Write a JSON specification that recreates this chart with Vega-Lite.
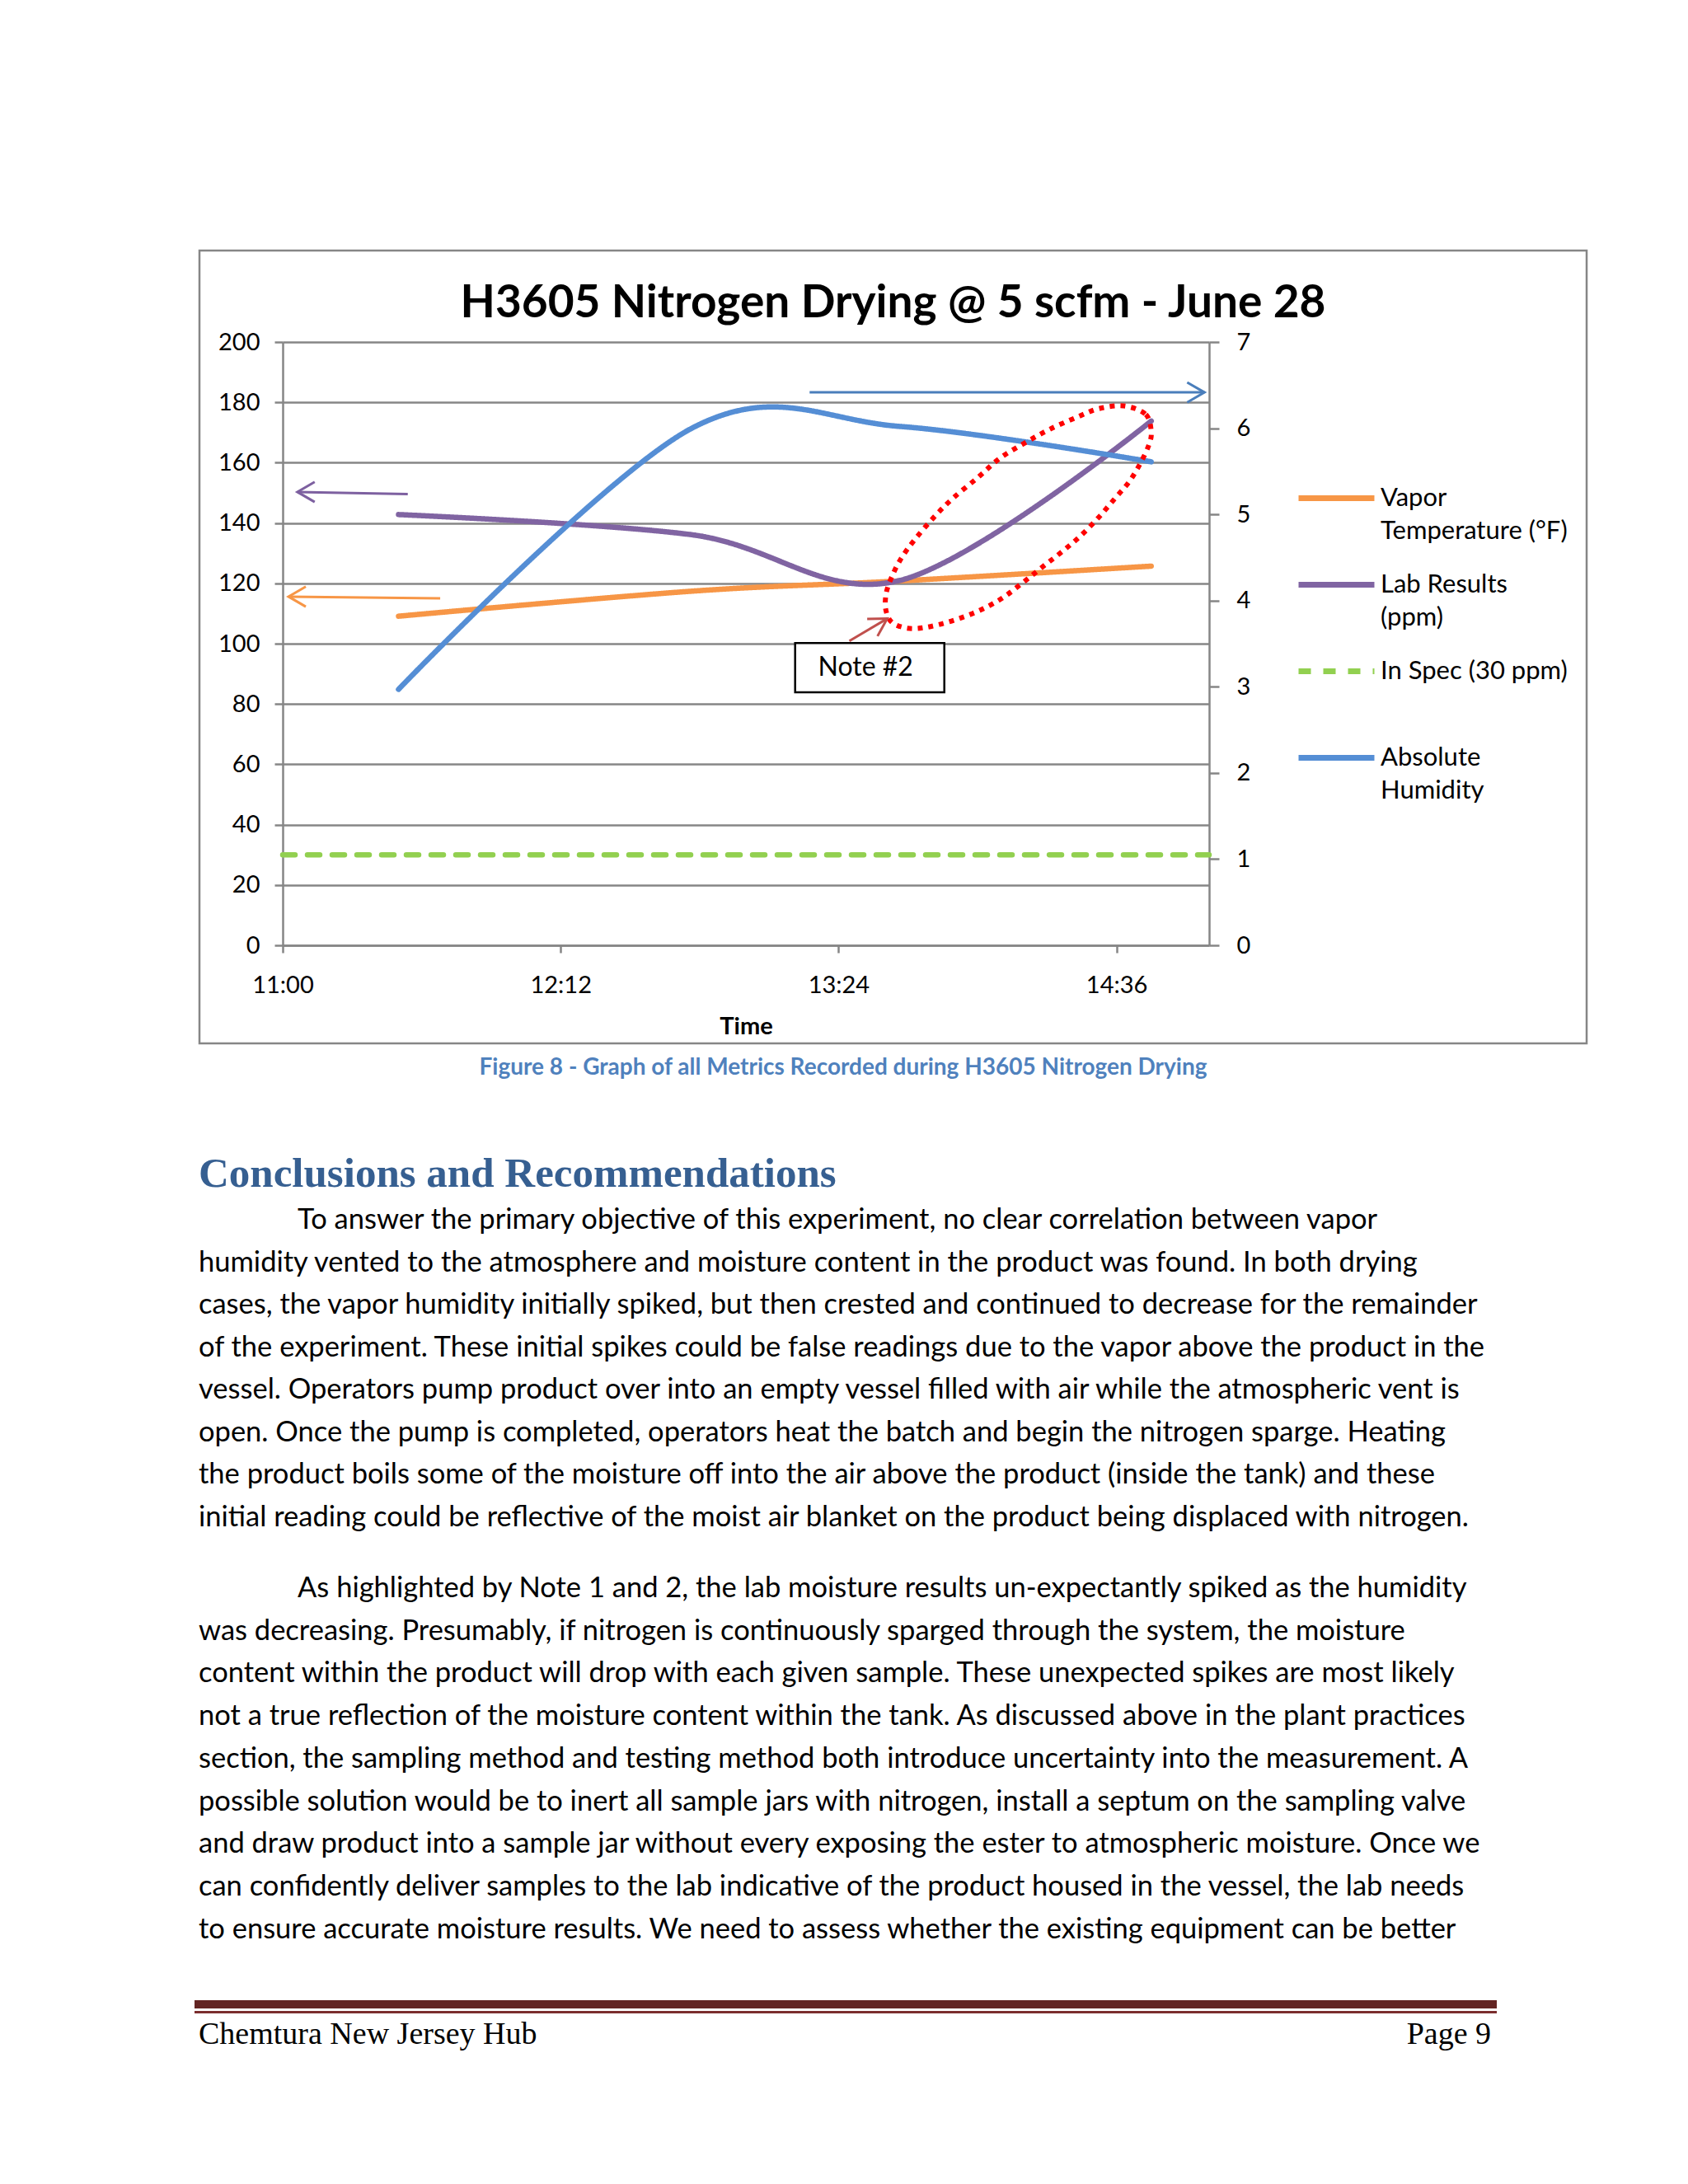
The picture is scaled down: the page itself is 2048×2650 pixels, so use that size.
{
  "$schema": "https://vega.github.io/schema/vega-lite/v6.json",
  "background": "white",
  "padding": {"left": 231, "top": 302, "right": 0, "bottom": 0},
  "config": {
    "view": {"stroke": null},
    "font": "Lato",
    "style": {"guide-label": {"lineHeight": 40}},
    "axis": {
      "labelFont": "Lato", "labelFontSize": 29, "labelColor": "#000000",
      "domainColor": "#868686", "domainWidth": 2.5,
      "tickColor": "#868686", "tickWidth": 2.5,
      "gridColor": "#868686", "gridWidth": 2.5,
      "titleFont": "Lato", "titleFontSize": 29, "titleColor": "#000000",
      "labelFlush": false, "labelOverlap": false
    }
  },
  "datasets": {
    "series": [
      {"series": "Vapor Temperature (°F)", "time": "2012-06-28T11:30:00", "value": 109.1},
      {"series": "Vapor Temperature (°F)", "time": "2012-06-28T12:46:00", "value": 117.4},
      {"series": "Vapor Temperature (°F)", "time": "2012-06-28T13:40:00", "value": 120.8},
      {"series": "Vapor Temperature (°F)", "time": "2012-06-28T14:45:00", "value": 125.7},
      {"series": "Lab Results (ppm)", "time": "2012-06-28T11:30:00", "value": 142.8},
      {"series": "Lab Results (ppm)", "time": "2012-06-28T12:46:00", "value": 136.1},
      {"series": "Lab Results (ppm)", "time": "2012-06-28T13:40:00", "value": 121.0},
      {"series": "Lab Results (ppm)", "time": "2012-06-28T14:45:00", "value": 173.8},
      {"series": "In Spec (30 ppm)", "time": "2012-06-28T11:00:00", "value": 30},
      {"series": "In Spec (30 ppm)", "time": "2012-06-28T15:00:00", "value": 30},
      {"series": "Absolute Humidity", "time": "2012-06-28T11:30:00", "value": 2.97},
      {"series": "Absolute Humidity", "time": "2012-06-28T12:46:00", "value": 6.0},
      {"series": "Absolute Humidity", "time": "2012-06-28T13:40:00", "value": 6.02},
      {"series": "Absolute Humidity", "time": "2012-06-28T14:45:00", "value": 5.61}
    ]
  },
  "spacing": 0,
  "bounds": "flush",
  "vconcat": [
    {
      "width": 1124,
      "height": 732,
      "title": {
        "text": "H3605 Nitrogen Drying @ 5 scfm - June 28",
        "font": "Lato", "fontSize": 55, "fontWeight": "bold", "color": "#000000",
        "anchor": "middle", "frame": "bounds", "baseline": "alphabetic", "offset": -137
      },
      "layer": [
        {
          "data": {"name": "series"},
          "transform": [{"filter": "datum.series != 'Absolute Humidity'"}],
          "mark": {"type": "line", "interpolate": "cardinal", "strokeWidth": 6.5, "strokeCap": "round", "strokeJoin": "round"},
          "encoding": {
            "x": {
              "field": "time", "type": "temporal",
              "scale": {"domain": [{"year": 2012, "month": 6, "date": 28, "hours": 11}, {"year": 2012, "month": 6, "date": 28, "hours": 15}], "nice": false},
              "axis": {
                "title": "Time", "titleFontWeight": "bold", "format": "%H:%M", "grid": false,
                "values": [
                  {"year": 2012, "month": 6, "date": 28, "hours": 11, "minutes": 0},
                  {"year": 2012, "month": 6, "date": 28, "hours": 12, "minutes": 12},
                  {"year": 2012, "month": 6, "date": 28, "hours": 13, "minutes": 24},
                  {"year": 2012, "month": 6, "date": 28, "hours": 14, "minutes": 36}
                ],
                "tickSize": 9, "labelPadding": 25, "titlePadding": 21
              }
            },
            "y": {
              "field": "value", "type": "quantitative",
              "scale": {"domain": [0, 200], "nice": false},
              "axis": {"title": null, "orient": "left", "values": [0, 20, 40, 60, 80, 100, 120, 140, 160, 180, 200], "grid": true, "tickSize": 10, "labelPadding": 18}
            },
            "color": {
              "field": "series", "type": "nominal",
              "scale": {"domain": ["Vapor Temperature (°F)", "Lab Results (ppm)", "In Spec (30 ppm)", "Absolute Humidity"], "range": ["#F79646", "#8064A2", "#92D050", "#558ED5"]},
              "legend": {
                "title": null, "orient": "none", "legendX": 1229, "legendY": 140, "padding": 0,
                "symbolType": "stroke", "symbolSize": 8464, "symbolStrokeWidth": 7,
                "labelFont": "Lato", "labelFontSize": 31, "labelColor": "#000000", "labelBaseline": "middle",
                "labelOffset": 4, "labelLimit": 600, "rowPadding": -1,
                "labelExpr": "datum.label == 'Vapor Temperature (°F)' ? ['Vapor', 'Temperature (°F)'] : datum.label == 'Lab Results (ppm)' ? ['Lab Results', '(ppm)'] : datum.label == 'Absolute Humidity' ? ['Absolute', 'Humidity'] : [datum.label, '']"
              }
            },
            "strokeDash": {
              "field": "series", "type": "nominal",
              "scale": {"domain": ["Vapor Temperature (°F)", "Lab Results (ppm)", "In Spec (30 ppm)", "Absolute Humidity"], "range": [[1, 0], [1, 0], [15, 15], [1, 0]]},
              "legend": {
                "title": null, "orient": "none", "legendX": 1229, "legendY": 140, "padding": 0,
                "symbolType": "stroke", "symbolSize": 8464, "symbolStrokeWidth": 7,
                "labelFont": "Lato", "labelFontSize": 31, "labelColor": "#000000", "labelBaseline": "middle",
                "labelOffset": 4, "labelLimit": 600, "rowPadding": -1,
                "labelExpr": "datum.label == 'Vapor Temperature (°F)' ? ['Vapor', 'Temperature (°F)'] : datum.label == 'Lab Results (ppm)' ? ['Lab Results', '(ppm)'] : datum.label == 'Absolute Humidity' ? ['Absolute', 'Humidity'] : [datum.label, '']"
              }
            }
          }
        },
        {
          "data": {"name": "series"},
          "transform": [{"filter": "datum.series == 'Absolute Humidity'"}],
          "mark": {"type": "line", "interpolate": "cardinal", "strokeWidth": 6.5, "strokeCap": "round", "strokeJoin": "round"},
          "encoding": {
            "x": {"field": "time", "type": "temporal", "scale": {"domain": [{"year": 2012, "month": 6, "date": 28, "hours": 11}, {"year": 2012, "month": 6, "date": 28, "hours": 15}], "nice": false}},
            "y": {
              "field": "value", "type": "quantitative",
              "scale": {"domain": [0, 7], "nice": false},
              "axis": {"title": null, "orient": "right", "values": [0, 1, 2, 3, 4, 5, 6, 7], "grid": false, "tickSize": 12, "labelPadding": 21}
            },
            "color": {
              "field": "series", "type": "nominal",
              "scale": {"domain": ["Vapor Temperature (°F)", "Lab Results (ppm)", "In Spec (30 ppm)", "Absolute Humidity"], "range": ["#F79646", "#8064A2", "#92D050", "#558ED5"]},
              "legend": {
                "title": null, "orient": "none", "legendX": 1229, "legendY": 140, "padding": 0,
                "symbolType": "stroke", "symbolSize": 8464, "symbolStrokeWidth": 7,
                "labelFont": "Lato", "labelFontSize": 31, "labelColor": "#000000", "labelBaseline": "middle",
                "labelOffset": 4, "labelLimit": 600, "rowPadding": -1,
                "labelExpr": "datum.label == 'Vapor Temperature (°F)' ? ['Vapor', 'Temperature (°F)'] : datum.label == 'Lab Results (ppm)' ? ['Lab Results', '(ppm)'] : datum.label == 'Absolute Humidity' ? ['Absolute', 'Humidity'] : [datum.label, '']"
              }
            },
            "strokeDash": {
              "field": "series", "type": "nominal",
              "scale": {"domain": ["Vapor Temperature (°F)", "Lab Results (ppm)", "In Spec (30 ppm)", "Absolute Humidity"], "range": [[1, 0], [1, 0], [15, 15], [1, 0]]},
              "legend": {
                "title": null, "orient": "none", "legendX": 1229, "legendY": 140, "padding": 0,
                "symbolType": "stroke", "symbolSize": 8464, "symbolStrokeWidth": 7,
                "labelFont": "Lato", "labelFontSize": 31, "labelColor": "#000000", "labelBaseline": "middle",
                "labelOffset": 4, "labelLimit": 600, "rowPadding": -1,
                "labelExpr": "datum.label == 'Vapor Temperature (°F)' ? ['Vapor', 'Temperature (°F)'] : datum.label == 'Lab Results (ppm)' ? ['Lab Results', '(ppm)'] : datum.label == 'Absolute Humidity' ? ['Absolute', 'Humidity'] : [datum.label, '']"
              }
            }
          }
        },
        {
          "layer": [
            {
              "data": {"values": [{}]},
              "mark": {"type": "rect", "fill": "transparent", "stroke": "#868686", "strokeWidth": 2.5, "clip": false},
              "encoding": {
                "x": {"datum": {"year": 2012, "month": 6, "date": 28, "hours": 10, "minutes": 38, "seconds": 26}, "type": "temporal", "scale": {"domain": [{"year": 2012, "month": 6, "date": 28, "hours": 11}, {"year": 2012, "month": 6, "date": 28, "hours": 15}], "nice": false}},
                "x2": {"datum": {"year": 2012, "month": 6, "date": 28, "hours": 16, "minutes": 37, "seconds": 48}},
                "y": {"datum": 230.3, "type": "quantitative", "scale": {"domain": [0, 200], "nice": false}, "axis": null},
                "y2": {"datum": -32.5}
              }
            },
            {
              "data": {
                "values": [
                  {"i": 0, "time": "2012-06-28T14:37:54", "value": 178.8},
                  {"i": 1, "time": "2012-06-28T14:43:36", "value": 176.0},
                  {"i": 2, "time": "2012-06-28T14:45:00", "value": 170.1},
                  {"i": 3, "time": "2012-06-28T14:44:18", "value": 165.6},
                  {"i": 4, "time": "2012-06-28T14:42:06", "value": 159.6},
                  {"i": 5, "time": "2012-06-28T14:39:18", "value": 153.7},
                  {"i": 6, "time": "2012-06-28T14:35:42", "value": 148.3},
                  {"i": 7, "time": "2012-06-28T14:31:24", "value": 141.9},
                  {"i": 8, "time": "2012-06-28T14:26:30", "value": 135.5},
                  {"i": 9, "time": "2012-06-28T14:21:30", "value": 130.1},
                  {"i": 10, "time": "2012-06-28T14:16:30", "value": 125.1},
                  {"i": 11, "time": "2012-06-28T14:11:30", "value": 120.0},
                  {"i": 12, "time": "2012-06-28T14:05:48", "value": 114.6},
                  {"i": 13, "time": "2012-06-28T13:58:42", "value": 110.0},
                  {"i": 14, "time": "2012-06-28T13:50:12", "value": 106.4},
                  {"i": 15, "time": "2012-06-28T13:43:06", "value": 105.0},
                  {"i": 16, "time": "2012-06-28T13:38:06", "value": 106.8},
                  {"i": 17, "time": "2012-06-28T13:36:18", "value": 110.9},
                  {"i": 18, "time": "2012-06-28T13:36:18", "value": 116.4},
                  {"i": 19, "time": "2012-06-28T13:37:42", "value": 121.9},
                  {"i": 20, "time": "2012-06-28T13:40:12", "value": 128.2},
                  {"i": 21, "time": "2012-06-28T13:43:48", "value": 134.6},
                  {"i": 22, "time": "2012-06-28T13:48:42", "value": 141.9},
                  {"i": 23, "time": "2012-06-28T13:53:42", "value": 148.3},
                  {"i": 24, "time": "2012-06-28T14:00:06", "value": 155.1},
                  {"i": 25, "time": "2012-06-28T14:05:48", "value": 161.5},
                  {"i": 26, "time": "2012-06-28T14:12:12", "value": 166.5},
                  {"i": 27, "time": "2012-06-28T14:18:36", "value": 171.0},
                  {"i": 28, "time": "2012-06-28T14:25:48", "value": 175.1},
                  {"i": 29, "time": "2012-06-28T14:31:24", "value": 177.9}
                ],
                "format": {"parse": {"time": "date"}}
              },
              "mark": {"type": "line", "interpolate": "cardinal-closed", "color": "#FF0000", "strokeWidth": 6, "strokeDash": [6, 7]},
              "encoding": {
                "x": {"field": "time", "type": "temporal", "scale": {"domain": [{"year": 2012, "month": 6, "date": 28, "hours": 11}, {"year": 2012, "month": 6, "date": 28, "hours": 15}], "nice": false}},
                "y": {"field": "value", "type": "quantitative", "scale": {"domain": [0, 200], "nice": false}, "axis": null},
                "order": {"field": "i", "type": "quantitative"}
              }
            },
            {
              "data": {
                "values": [
                  {"note": "Note #2", "time": "2012-06-28T13:12:45", "time_end": "2012-06-28T13:51:24", "value": 100.2, "value_end": 83.9, "time_mid": "2012-06-28T13:31:00", "value_mid": 92.1}
                ],
                "format": {"parse": {"time": "date", "time_end": "date", "time_mid": "date"}}
              },
              "layer": [
                {
                  "mark": {"type": "rect", "fill": "#FFFFFF", "stroke": "#000000", "strokeWidth": 2.5},
                  "encoding": {
                    "x": {"field": "time", "type": "temporal", "scale": {"domain": [{"year": 2012, "month": 6, "date": 28, "hours": 11}, {"year": 2012, "month": 6, "date": 28, "hours": 15}], "nice": false}},
                    "x2": {"field": "time_end"},
                    "y": {"field": "value", "type": "quantitative", "scale": {"domain": [0, 200], "nice": false}, "axis": null},
                    "y2": {"field": "value_end"}
                  }
                },
                {
                  "mark": {"type": "text", "font": "Lato", "fontSize": 32, "color": "#000000", "baseline": "middle"},
                  "encoding": {
                    "x": {"field": "time_mid", "type": "temporal", "scale": {"domain": [{"year": 2012, "month": 6, "date": 28, "hours": 11}, {"year": 2012, "month": 6, "date": 28, "hours": 15}], "nice": false}},
                    "y": {"field": "value_mid", "type": "quantitative", "scale": {"domain": [0, 200], "nice": false}, "axis": null},
                    "text": {"field": "note"}
                  }
                }
              ]
            },
            {
              "data": {
                "values": [
                  {"arrow": "lab", "time": "2012-06-28T11:32:24", "time_end": "2012-06-28T11:03:48", "value": 149.6, "value_end": 150.3},
                  {"arrow": "temp", "time": "2012-06-28T11:40:48", "time_end": "2012-06-28T11:01:30", "value": 115.0, "value_end": 115.6},
                  {"arrow": "humidity", "time": "2012-06-28T13:16:30", "time_end": "2012-06-28T14:58:48", "value": 183.3, "value_end": 183.3},
                  {"arrow": "note", "time": "2012-06-28T13:26:48", "time_end": "2012-06-28T13:36:36", "value": 100.9, "value_end": 108.3}
                ],
                "format": {"parse": {"time": "date", "time_end": "date"}}
              },
              "layer": [
                {
                  "mark": {"type": "rule", "strokeWidth": 3},
                  "encoding": {
                    "x": {"field": "time", "type": "temporal", "scale": {"domain": [{"year": 2012, "month": 6, "date": 28, "hours": 11}, {"year": 2012, "month": 6, "date": 28, "hours": 15}], "nice": false}},
                    "x2": {"field": "time_end"},
                    "y": {"field": "value", "type": "quantitative", "scale": {"domain": [0, 200], "nice": false}, "axis": null},
                    "y2": {"field": "value_end"},
                    "stroke": {"field": "arrow", "type": "nominal", "scale": {"domain": ["lab", "temp", "humidity", "note"], "range": ["#7D60A0", "#F79646", "#4A7EBB", "#C0504D"]}, "legend": null}
                  }
                },
                {
                  "transform": [{"filter": "datum.arrow == 'lab' || datum.arrow == 'temp'"}],
                  "mark": {"type": "point", "shape": "M1,-0.58L0,0L1,0.58", "size": 1764, "filled": false, "strokeWidth": 3, "opacity": 1},
                  "encoding": {
                    "x": {"field": "time_end", "type": "temporal", "scale": {"domain": [{"year": 2012, "month": 6, "date": 28, "hours": 11}, {"year": 2012, "month": 6, "date": 28, "hours": 15}], "nice": false}},
                    "y": {"field": "value_end", "type": "quantitative", "scale": {"domain": [0, 200], "nice": false}, "axis": null},
                    "stroke": {"field": "arrow", "type": "nominal", "scale": {"domain": ["lab", "temp", "humidity", "note"], "range": ["#7D60A0", "#F79646", "#4A7EBB", "#C0504D"]}, "legend": null}
                  }
                },
                {
                  "transform": [{"filter": "datum.arrow == 'humidity'"}],
                  "mark": {"type": "point", "shape": "M-1,-0.58L0,0L-1,0.58", "size": 1764, "filled": false, "strokeWidth": 3, "opacity": 1},
                  "encoding": {
                    "x": {"field": "time_end", "type": "temporal", "scale": {"domain": [{"year": 2012, "month": 6, "date": 28, "hours": 11}, {"year": 2012, "month": 6, "date": 28, "hours": 15}], "nice": false}},
                    "y": {"field": "value_end", "type": "quantitative", "scale": {"domain": [0, 200], "nice": false}, "axis": null},
                    "stroke": {"field": "arrow", "type": "nominal", "scale": {"domain": ["lab", "temp", "humidity", "note"], "range": ["#7D60A0", "#F79646", "#4A7EBB", "#C0504D"]}, "legend": null}
                  }
                },
                {
                  "transform": [{"filter": "datum.arrow == 'note'"}],
                  "mark": {"type": "point", "shape": "M-1,-0.58L0,0L-1,0.58", "size": 1764, "filled": false, "strokeWidth": 3, "opacity": 1, "angle": -31},
                  "encoding": {
                    "x": {"field": "time_end", "type": "temporal", "scale": {"domain": [{"year": 2012, "month": 6, "date": 28, "hours": 11}, {"year": 2012, "month": 6, "date": 28, "hours": 15}], "nice": false}},
                    "y": {"field": "value_end", "type": "quantitative", "scale": {"domain": [0, 200], "nice": false}, "axis": null},
                    "stroke": {"field": "arrow", "type": "nominal", "scale": {"domain": ["lab", "temp", "humidity", "note"], "range": ["#7D60A0", "#F79646", "#4A7EBB", "#C0504D"]}, "legend": null}
                  }
                }
              ]
            }
          ]
        }
      ],
      "resolve": {"scale": {"y": "independent"}}
    },
    {
      "width": 1124,
      "height": 1340,
      "layer": [
        {
          "data": {"values": [{"block": "caption", "place": "center", "text": "Figure 8 - Graph of all Metrics Recorded during H3605 Nitrogen Drying"}]},
          "mark": {"type": "text", "align": "center", "baseline": "middle", "font": "Lato", "fontSize": 28, "fontWeight": "bold", "color": "#4F81BD"},
          "encoding": {
            "x": {"field": "place", "type": "nominal", "scale": {"type": "point", "domain": ["center"], "range": [680, 680], "padding": 0}, "axis": null},
            "y": {"field": "block", "type": "nominal", "scale": {"type": "point", "domain": ["caption"], "range": [149, 149], "padding": 0}, "axis": null},
            "text": {"field": "text"}
          }
        },
        {
          "data": {"values": [{"block": "heading", "place": "margin", "text": "Conclusions and Recommendations"}]},
          "mark": {"type": "text", "align": "left", "baseline": "middle", "font": "Liberation Serif", "fontSize": 51, "fontWeight": "bold", "color": "#365F91"},
          "encoding": {
            "x": {"field": "place", "type": "nominal", "scale": {"type": "point", "domain": ["margin"], "range": [-102, -102], "padding": 0}, "axis": null},
            "y": {"field": "block", "type": "nominal", "scale": {"type": "point", "domain": ["heading"], "range": [278, 278], "padding": 0}, "axis": null},
            "text": {"field": "text"}
          }
        },
        {
          "data": {
            "values": [
              {"line": 1, "place": "indent", "text": "To answer the primary objective of this experiment, no clear correlation between vapor"},
              {"line": 2, "place": "margin", "text": "humidity vented to the atmosphere and moisture content in the product was found. In both drying"},
              {"line": 3, "place": "margin", "text": "cases, the vapor humidity initially spiked, but then crested and continued to decrease for the remainder"},
              {"line": 4, "place": "margin", "text": "of the experiment. These initial spikes could be false readings due to the vapor above the product in the"},
              {"line": 5, "place": "margin", "text": "vessel. Operators pump product over into an empty vessel filled with air while the atmospheric vent is"},
              {"line": 6, "place": "margin", "text": "open.  Once the pump is completed, operators heat the batch and begin the nitrogen sparge. Heating"},
              {"line": 7, "place": "margin", "text": "the product boils some of the moisture off into the air above the product (inside the tank) and these"},
              {"line": 8, "place": "margin", "text": "initial reading could be reflective of the moist air blanket on the product being displaced with nitrogen."}
            ]
          },
          "mark": {"type": "text", "align": "left", "baseline": "middle", "font": "Lato", "fontSize": 34.5, "color": "#000000"},
          "encoding": {
            "x": {"field": "place", "type": "nominal", "scale": {"type": "point", "domain": ["margin", "indent"], "range": [-102, 18], "padding": 0}, "axis": null},
            "y": {"field": "line", "type": "ordinal", "scale": {"type": "point", "domain": [1, 2, 3, 4, 5, 6, 7, 8], "range": [334, 695], "padding": 0}, "axis": null},
            "text": {"field": "text"}
          }
        },
        {
          "data": {
            "values": [
              {"line": 1, "place": "indent", "text": "As highlighted by Note 1 and 2, the lab moisture results un-expectantly spiked as the humidity"},
              {"line": 2, "place": "margin", "text": "was decreasing. Presumably, if nitrogen is continuously sparged through the system, the moisture"},
              {"line": 3, "place": "margin", "text": "content within the product will drop with each given sample. These unexpected spikes are most likely"},
              {"line": 4, "place": "margin", "text": "not a true reflection of the moisture content within the tank. As discussed above in the plant practices"},
              {"line": 5, "place": "margin", "text": "section, the sampling method and testing method both introduce uncertainty into the measurement. A"},
              {"line": 6, "place": "margin", "text": "possible solution would be to inert all sample jars with nitrogen, install a septum on the sampling valve"},
              {"line": 7, "place": "margin", "text": "and draw product into a sample jar without every exposing the ester to atmospheric moisture. Once we"},
              {"line": 8, "place": "margin", "text": "can confidently deliver samples to the lab indicative of the product housed in the vessel, the lab needs"},
              {"line": 9, "place": "margin", "text": "to ensure accurate moisture results. We need to assess whether the existing equipment can be better"}
            ]
          },
          "mark": {"type": "text", "align": "left", "baseline": "middle", "font": "Lato", "fontSize": 34.5, "color": "#000000"},
          "encoding": {
            "x": {"field": "place", "type": "nominal", "scale": {"type": "point", "domain": ["margin", "indent"], "range": [-102, 18], "padding": 0}, "axis": null},
            "y": {"field": "line", "type": "ordinal", "scale": {"type": "point", "domain": [1, 2, 3, 4, 5, 6, 7, 8, 9], "range": [781, 1194.6], "padding": 0}, "axis": null},
            "text": {"field": "text"}
          }
        },
        {
          "data": {"values": [{"bar": "thick"}]},
          "mark": {"type": "rule", "strokeWidth": 10, "color": "#632523"},
          "encoding": {
            "x": {"datum": 0, "type": "quantitative", "scale": {"domain": [0, 1], "range": [-107, 1473]}, "axis": null},
            "x2": {"datum": 1},
            "y": {"field": "bar", "type": "nominal", "scale": {"type": "point", "domain": ["thick"], "range": [1285, 1285], "padding": 0}, "axis": null}
          }
        },
        {
          "data": {"values": [{"bar": "thin"}]},
          "mark": {"type": "rule", "strokeWidth": 3, "color": "#7B2E2E"},
          "encoding": {
            "x": {"datum": 0, "type": "quantitative", "scale": {"domain": [0, 1], "range": [-107, 1473]}, "axis": null},
            "x2": {"datum": 1},
            "y": {"field": "bar", "type": "nominal", "scale": {"type": "point", "domain": ["thin"], "range": [1294.5, 1294.5], "padding": 0}, "axis": null}
          }
        },
        {
          "data": {"values": [{"block": "footer", "place": "margin", "text": "Chemtura New Jersey Hub"}]},
          "mark": {"type": "text", "align": "left", "baseline": "middle", "font": "Liberation Serif", "fontSize": 38, "color": "#000000"},
          "encoding": {
            "x": {"field": "place", "type": "nominal", "scale": {"type": "point", "domain": ["margin"], "range": [-102, -102], "padding": 0}, "axis": null},
            "y": {"field": "block", "type": "nominal", "scale": {"type": "point", "domain": ["footer"], "range": [1322, 1322], "padding": 0}, "axis": null},
            "text": {"field": "text"}
          }
        },
        {
          "data": {"values": [{"block": "footer", "place": "right", "text": "Page 9"}]},
          "mark": {"type": "text", "align": "right", "baseline": "middle", "font": "Liberation Serif", "fontSize": 38, "color": "#000000"},
          "encoding": {
            "x": {"field": "place", "type": "nominal", "scale": {"type": "point", "domain": ["right"], "range": [1466, 1466], "padding": 0}, "axis": null},
            "y": {"field": "block", "type": "nominal", "scale": {"type": "point", "domain": ["footer"], "range": [1322, 1322], "padding": 0}, "axis": null},
            "text": {"field": "text"}
          }
        }
      ],
      "resolve": {"scale": {"x": "independent", "y": "independent"}}
    }
  ]
}
